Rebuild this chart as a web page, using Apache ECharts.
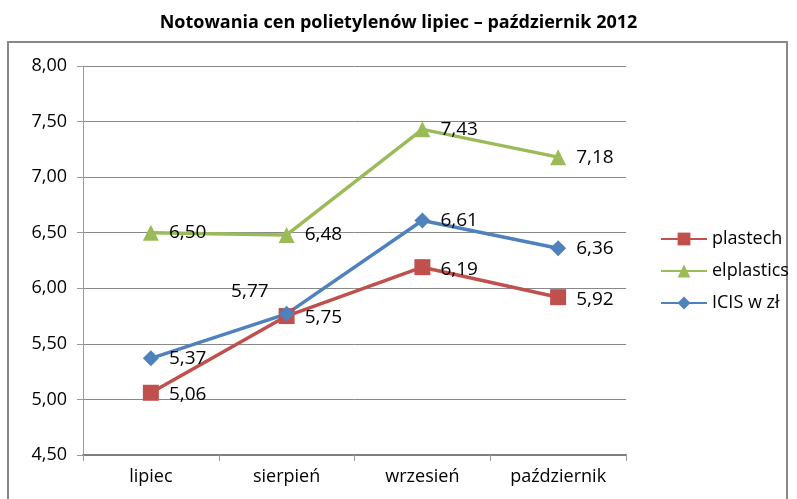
<!DOCTYPE html>
<html>
<head>
<meta charset="utf-8">
<script src="https://cdn.jsdelivr.net/npm/echarts@6/dist/echarts.min.js"></script>
<style>
  body { margin: 0; background: #fff; }
  #chart { width: 797px; height: 499px; }
</style>
</head>
<body>
<div id="chart"></div>
<script>
var months = ['lipiec', 'sierpień', 'wrzesień', 'październik'];
var plastech = [5.06, 5.75, 6.19, 5.92];
var elplastics = [6.50, 6.48, 7.43, 7.18];
var icis = [5.37, 5.77, 6.61, 6.36];
var yTicks = [4.5, 8.0, 0.5];

function fmt(v) {
	return v.toFixed(2).replace('.', ',');
}

function getLabel(pos, offset) {
	return {
		show : true,
		position : pos,
		offset : offset || [0, 0],
		distance : 10,
		fontFamily : 'Open Sans',
		fontSize : 19,
		color : '#000',
		formatter : function(p) {
			return fmt(p.value);
		}
	};
}

var myChart = echarts.init(document.getElementById('chart'));
myChart.setOption({
	animation : false,
	textStyle : { fontFamily : 'Open Sans' },
	title : {
		text : 'Notowania cen polietylenów lipiec – październik 2012',
		left : 'center',
		top : 9,
		textStyle : { fontSize : 18, fontWeight : 'bold', color : '#000' }
	},
	graphic : [ {
		type : 'rect',
		shape : { x : 8, y : 42, width : 779, height : 470 },
		style : { fill : 'none', stroke : '#888', lineWidth : 2 }
	} ],
	legend : {
		orient : 'vertical',
		left : 655,
		top : 225,
		itemGap : 14,
		itemWidth : 46,
		itemHeight : 16,
		textStyle : { fontSize : 18, color : '#000' },
		data : [ 'plastech', 'elplastics', 'ICIS w zł' ]
	},
	grid : { left : 83, right : 171, top : 66, bottom : 44 },
	xAxis : {
		type : 'category',
		data : months,
		boundaryGap : true,
		axisLine : { lineStyle : { color : '#808080', width : 2 } },
		axisTick : { show : true, lineStyle : { color : '#999' }, length : 6 },
		axisLabel : { fontSize : 18, color : '#000', margin : 13 }
	},
	yAxis : {
		type : 'value',
		min : yTicks[0],
		max : yTicks[1],
		interval : yTicks[2],
		axisLine : { show : true, lineStyle : { color : '#999' } },
		axisTick : { show : true, length : 6, lineStyle : { color : '#999' } },
		splitLine : { lineStyle : { color : '#888' } },
		axisLabel : {
			fontSize : 18, color : '#000', margin : 16,
			formatter : function(v) { return fmt(v); }
		}
	},
	series : [ {
		name : 'plastech',
		type : 'line',
		data : plastech,
		symbol : 'rect',
		symbolSize : 16,
		lineStyle : { color : '#C0504D', width : 3.5 },
		itemStyle : { color : '#C0504D' },
		label : getLabel('right', [0, 2])
	}, {
		name : 'elplastics',
		type : 'line',
		data : elplastics,
		symbol : 'triangle',
		symbolSize : 16,
		lineStyle : { color : '#9BBB59', width : 3.5 },
		itemStyle : { color : '#9BBB59' },
		label : getLabel('right', [0, 0])
	}, {
		name : 'ICIS w zł',
		type : 'line',
		data : icis.map(function(v, i) {
			if (i === 1) {
				return { value : v, label : { position : 'left', offset : [0, -22] } };
			}
			return v;
		}),
		symbol : 'diamond',
		symbolSize : 16,
		lineStyle : { color : '#4F81BD', width : 3.5 },
		itemStyle : { color : '#4F81BD' },
		label : getLabel('right', [0, 0])
	} ]
});
</script>
</body>
</html>
